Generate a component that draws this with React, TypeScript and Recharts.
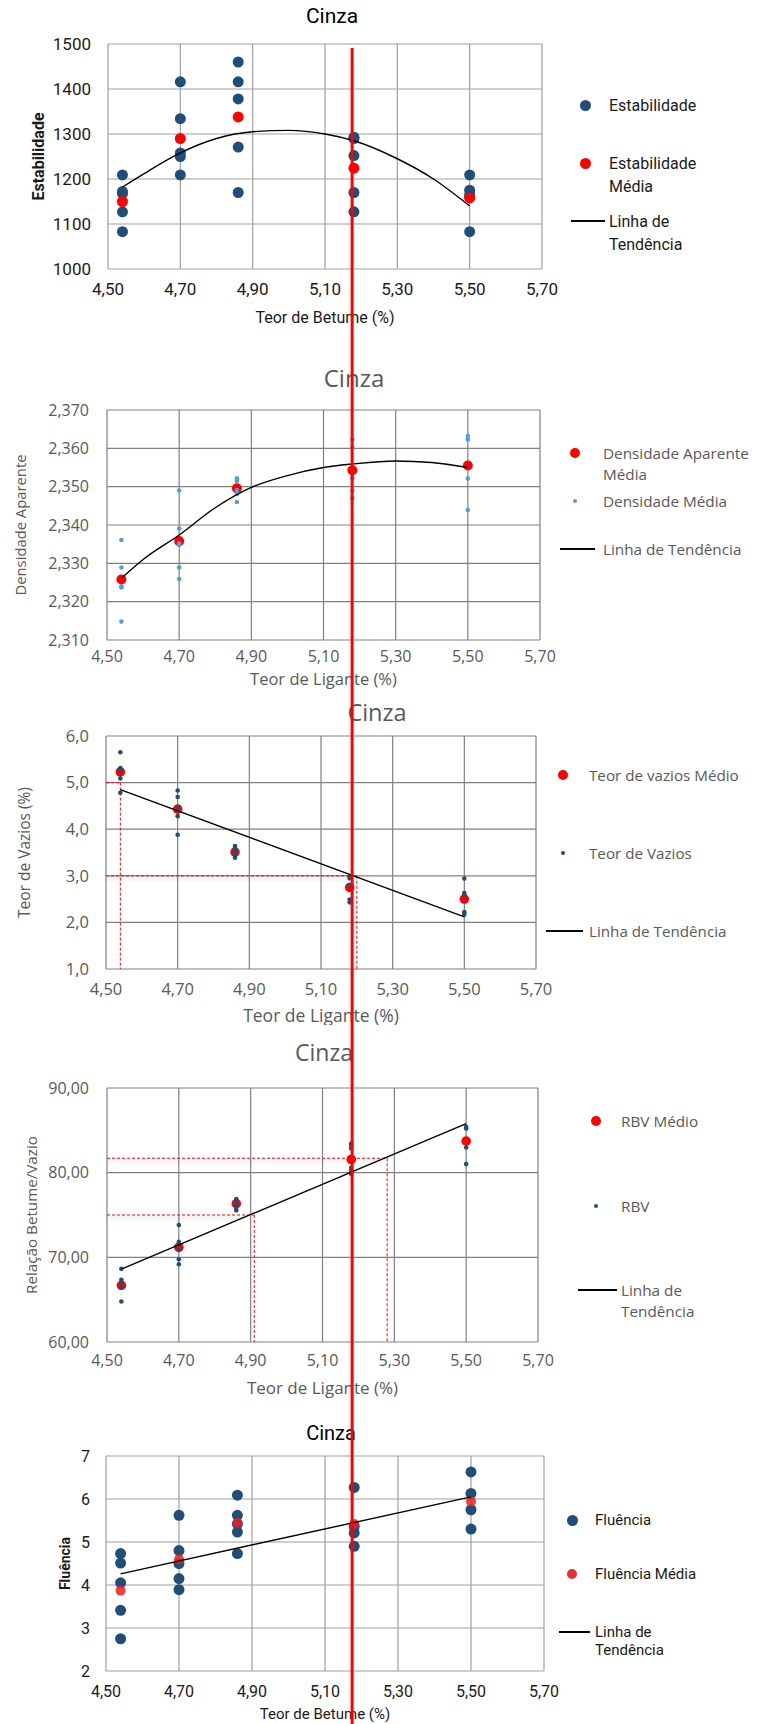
import React from 'react';
import { ScatterChart, Scatter, XAxis, YAxis, CartesianGrid, ReferenceLine, Legend, Label } from 'recharts';

const PAGE_W = 757;
const PAGE_H = 1724;

// ---------- shared ----------
const TEOR = [4.54, 4.7, 4.86, 5.18, 5.5];
const X_TICKS = [4.5, 4.7, 4.9, 5.1, 5.3, 5.5, 5.7];
const TEOR_ESCOLHIDO = 5.175;
const MARCA_Y = [0, 1];

// ---------- 1: Estabilidade ----------
const ESTAB_TICKS = [1000, 1100, 1200, 1300, 1400, 1500];
const ESTABILIDADE = [
  [1209, 1172, 1168, 1127, 1083],
  [1416, 1334, 1258, 1250, 1209],
  [1460, 1416, 1378, 1271, 1170],
  [1293, 1290, 1252, 1170, 1127],
  [1209, 1175, 1165, 1160, 1083],
];
const ESTAB_MEDIA = [1150, 1290, 1338, 1224, 1158];
const ESTAB_TREND_X = [4.54, 4.6, 4.7, 4.8, 4.9, 5.0, 5.1, 5.18, 5.3, 5.4, 5.5];
const ESTAB_TREND_Y = [1182, 1212, 1258, 1290, 1305, 1308, 1300, 1285, 1245, 1200, 1140];

// ---------- 2: Densidade ----------
const DENS_TICKS = [2.31, 2.32, 2.33, 2.34, 2.35, 2.36, 2.37];
const DENS_APARENTE_MEDIA = [2.3258, 2.3358, 2.3496, 2.3543, 2.3555];
const DENSIDADE = [
  [2.3361, 2.3289, 2.324, 2.3237, 2.3148],
  [2.349, 2.3391, 2.3352, 2.3348, 2.3289, 2.3259],
  [2.3522, 2.3515, 2.3491, 2.3484, 2.3481, 2.346],
  [2.3623, 2.3602, 2.3522, 2.349, 2.347],
  [2.3632, 2.3623, 2.3521, 2.3439],
];
const DENS_TREND_X = [4.54, 4.6, 4.7, 4.8, 4.9, 5.0, 5.1, 5.18, 5.3, 5.4, 5.5];
const DENS_TREND_Y = [2.3261, 2.331, 2.3374, 2.3445, 2.3498, 2.3529, 2.355, 2.3559, 2.3567, 2.3563, 2.355];

// ---------- 3: Teor de Vazios ----------
const VAZ_TICKS = [1, 2, 3, 4, 5, 6];
const VAZ_MEDIO = [5.23, 4.43, 3.51, 2.75, 2.5];
const VAZIOS = [
  [5.65, 5.31, 5.27, 5.09, 4.78],
  [4.83, 4.69, 4.47, 4.28, 3.88],
  [3.64, 3.59, 3.51, 3.44, 3.39],
  [2.98, 2.95, 2.8, 2.49, 2.43],
  [2.94, 2.63, 2.59, 2.22, 2.17],
];
const VAZ_TREND_X = [4.54, 5.5];
const VAZ_TREND_Y = [4.85, 2.12];
const VAZ_GUIA_X = [4.54, 5.2];
const VAZ_GUIA_Y = [5.0, 3.0];
const VAZ_GUIA_SOMBRA = [false, true];

// ---------- 4: RBV ----------
const RBV_TICKS = [60, 70, 80, 90];
const RBV_MEDIO = [66.68, 71.19, 76.34, 81.56, 83.72];
const RBV = [
  [68.64, 67.35, 67.07, 66.44, 64.79],
  [73.82, 71.82, 71.55, 70.88, 69.78, 69.19],
  [76.89, 76.65, 76.18, 75.87, 75.55],
  [83.44, 83.17, 82.85, 80.58, 80.3, 79.83],
  [85.41, 85.21, 82.97, 81.01],
];
const RBV_TREND_X = [4.54, 5.5];
const RBV_TREND_Y = [68.6, 85.8];
const RBV_GUIA_X = [5.28, 4.91];
const RBV_GUIA_Y = [81.7, 75.0];
const RBV_GUIA_SOMBRA = [true, true];

// ---------- 5: Fluência ----------
const FLU_TICKS = [2, 3, 4, 5, 6, 7];
const FLUENCIA = [
  [4.73, 4.51, 4.05, 3.41, 2.75],
  [5.62, 4.8, 4.5, 4.15, 3.89],
  [6.09, 5.62, 5.42, 5.23, 4.73],
  [6.27, 5.36, 5.21, 4.9],
  [6.63, 6.13, 5.75, 5.3],
];
const FLU_MEDIA = [3.87, 4.6, 5.44, 5.42, 5.94];
const FLU_TREND_X = [4.54, 5.5];
const FLU_TREND_Y = [4.26, 6.05];

// ---------- helpers ----------
type Pt = { x: number; y: number };
const zip = (xs: number[], ys: number[]): Pt[] => xs.map((x, i) => ({ x, y: ys[i] }));
const groups = (xs: number[], ys: number[][]): Pt[] => xs.flatMap((x, i) => ys[i].map((y) => ({ x, y })));
const guides = (gx: number[], gy: number[], shadow: boolean[], yMin: number) =>
  gx.flatMap((x, i) => [
    { points: [{ x: 4.5, y: gy[i] }, { x, y: gy[i] }], shadow: shadow[i] },
    { points: [{ x, y: gy[i] }, { x, y: yMin }], shadow: false },
  ]);
const fmt = (d: number) => (v: number) => v.toFixed(d).replace('.', ',');

const BLUE = '#1F4E79';
const LIGHT_BLUE = '#5B9BD5';
const RED = '#FF0000';
const ROBOTO = 'Roboto, sans-serif';
const OPEN = "'Open Sans', sans-serif";

type SeriesCfg = { data: Pt[]; kind: 'dot' | 'line'; color: string; r?: number; opacity?: number };
type LegendItem = { kind: 'dot' | 'line'; color: string; r?: number; lines: string[]; cy: number };
type PanelCfg = {
  top: number;
  height: number;
  plot: { left: number; right: number; top: number; bottom: number };
  yDomain: [number, number];
  yTicks: number[];
  yDigits: number;
  font: string;
  color: string;
  titleColor: string;
  tickSize: number;
  yTickMargin: number;
  xTickMargin: number;
  title: { text: string; cx: number; cy: number; size: number };
  yLabel: { text: string; cx: number; size: number; bold?: boolean };
  xLabel: { text: string; size: number; offset: number };
  legend: { markerX: number; textX: number; lineX1: number; lineX2: number; size: number; lineHeight: number; items: LegendItem[] };
  series: SeriesCfg[];
  segments?: { points: Pt[]; shadow: boolean }[];
  gridColor: string;
};

function LegendBox({ cfg }: { cfg: PanelCfg }) {
  const L = cfg.legend;
  return (
    <div style={{ position: 'relative', width: PAGE_W, height: cfg.height, fontFamily: cfg.font, color: cfg.color, fontSize: L.size, pointerEvents: 'none' }}>
      {L.items.map((it, i) => {
        const cy = it.cy - cfg.top;
        const r = it.r || 0;
        return (
          <React.Fragment key={i}>
            {it.kind === 'dot' ? (
              <div style={{ position: 'absolute', left: L.markerX - r, top: cy - r, width: r * 2, height: r * 2, borderRadius: '50%', background: it.color }} />
            ) : (
              <div style={{ position: 'absolute', left: L.lineX1, top: cy - 0.75, width: L.lineX2 - L.lineX1, height: 1.5, background: it.color }} />
            )}
            {it.lines.map((ln, j) => (
              <div
                key={j}
                style={{
                  position: 'absolute',
                  left: L.textX,
                  top: cy + j * L.lineHeight - L.lineHeight / 2,
                  height: L.lineHeight,
                  lineHeight: `${L.lineHeight}px`,
                  whiteSpace: 'nowrap',
                }}
              >
                {ln}
              </div>
            ))}
          </React.Fragment>
        );
      })}
    </div>
  );
}

function Panel({ cfg }: { cfg: PanelCfg }) {
  const p = cfg.plot;
  const localTop = p.top - cfg.top;
  const localBottom = p.bottom - cfg.top;
  const xAxisH = cfg.height - localBottom;
  const tickStyle = { fill: cfg.color, fontSize: cfg.tickSize, fontFamily: cfg.font };
  return (
    <div style={{ position: 'absolute', left: 0, top: cfg.top, width: PAGE_W, height: cfg.height }}>
      <div
        style={{
          position: 'absolute',
          left: cfg.title.cx - 100,
          width: 200,
          top: cfg.title.cy - cfg.top - 0.6 * cfg.title.size,
          lineHeight: `${1.2 * cfg.title.size}px`,
          textAlign: 'center',
          fontFamily: cfg.font,
          fontSize: cfg.title.size,
          color: cfg.titleColor,
        }}
      >
        {cfg.title.text}
      </div>
      <ScatterChart width={PAGE_W} height={cfg.height} margin={{ top: localTop, right: PAGE_W - p.right, bottom: 0, left: 0 }}>
        <CartesianGrid stroke={cfg.gridColor} strokeWidth={1.2} />
        <XAxis
          type="number"
          dataKey="x"
          domain={[4.5, 5.7]}
          ticks={X_TICKS}
          interval={0}
          tickFormatter={fmt(2)}
          height={xAxisH}
          tickSize={0}
          tickLine={false}
          axisLine={false}
          tickMargin={cfg.xTickMargin}
          tick={tickStyle}
        >
          <Label
            value={cfg.xLabel.text}
            position="insideBottom"
            offset={cfg.xLabel.offset}
            style={{ fill: cfg.color, fontSize: cfg.xLabel.size, fontFamily: cfg.font }}
          />
        </XAxis>
        <YAxis
          type="number"
          dataKey="y"
          domain={cfg.yDomain}
          ticks={cfg.yTicks}
          interval={0}
          tickFormatter={fmt(cfg.yDigits)}
          width={p.left}
          tickSize={0}
          tickLine={false}
          axisLine={false}
          tickMargin={cfg.yTickMargin}
          tick={tickStyle}
        >
          <Label
            value={cfg.yLabel.text}
            angle={-90}
            position="insideLeft"
            offset={cfg.yLabel.cx}
            style={{
              textAnchor: 'middle',
              fill: cfg.color,
              fontSize: cfg.yLabel.size,
              fontFamily: cfg.font,
              fontWeight: cfg.yLabel.bold ? 700 : 400,
            }}
          />
        </YAxis>
        {(cfg.segments || []).map((s, i) => (
          <ReferenceLine
            key={`seg${i}`}
            segment={s.points as any}
            stroke={RED}
            strokeWidth={1}
            strokeDasharray="3 2"
            ifOverflow="visible"
            shape={(props: any) => (
              <line
                x1={props.x1}
                y1={props.y1}
                x2={props.x2}
                y2={props.y2}
                stroke={RED}
                strokeWidth={1}
                strokeDasharray="3 2"
                style={s.shadow ? { filter: 'drop-shadow(0px 3px 2px rgba(0,0,0,0.35))' } : undefined}
              />
            )}
          />
        ))}
        {cfg.series.map((s, i) =>
          s.kind === 'dot' ? (
            <Scatter
              key={`s${i}`}
              data={s.data}
              isAnimationActive={false}
              shape={(props: any) => (
                <circle cx={props.cx} cy={props.cy} r={s.r} fill={s.color} fillOpacity={s.opacity ?? 1} />
              )}
            />
          ) : (
            <Scatter
              key={`s${i}`}
              data={s.data}
              isAnimationActive={false}
              line={{ stroke: s.color, strokeWidth: 1.4 }}
              lineJointType="monotoneX"
              shape={() => <g />}
            />
          )
        )}
        <Legend
          layout="vertical"
          align="center"
          verticalAlign="middle"
          wrapperStyle={{ left: 0, top: 0, width: PAGE_W, height: cfg.height }}
          content={() => <LegendBox cfg={cfg} />}
        />
      </ScatterChart>
    </div>
  );
}

const PANELS: PanelCfg[] = [
  {
    top: 0,
    height: 335,
    plot: { left: 108, right: 542, top: 44, bottom: 269 },
    yDomain: [1000, 1500],
    yTicks: ESTAB_TICKS,
    yDigits: 0,
    font: ROBOTO,
    color: '#1a1a1a',
    titleColor: '#000',
    tickSize: 17,
    yTickMargin: 17,
    xTickMargin: 14,
    title: { text: 'Cinza', cx: 332, cy: 17, size: 21 },
    yLabel: { text: 'Estabilidade', cx: 38, size: 16, bold: true },
    xLabel: { text: 'Teor de Betume (%)', size: 16, offset: 12 },
    legend: {
      markerX: 585, textX: 609, lineX1: 571, lineX2: 605, size: 16, lineHeight: 23,
      items: [
        { kind: 'dot', color: BLUE, r: 5.5, lines: ['Estabilidade'], cy: 105 },
        { kind: 'dot', color: RED, r: 5.5, lines: ['Estabilidade', 'Média'], cy: 163 },
        { kind: 'line', color: '#000', lines: ['Linha de', 'Tendência'], cy: 221 },
      ],
    },
    series: [
      { data: groups(TEOR, ESTABILIDADE), kind: 'dot', color: BLUE, r: 5.5 },
      { data: zip(TEOR, ESTAB_MEDIA), kind: 'dot', color: RED, r: 5.5 },
      { data: zip(ESTAB_TREND_X, ESTAB_TREND_Y), kind: 'line', color: '#000' },
    ],
    gridColor: '#a0a0a0',
  },
  {
    top: 335,
    height: 355,
    plot: { left: 107, right: 540, top: 410, bottom: 640 },
    yDomain: [2.31, 2.37],
    yTicks: DENS_TICKS,
    yDigits: 3,
    font: OPEN,
    color: '#595959',
    titleColor: '#595959',
    tickSize: 16,
    yTickMargin: 18,
    xTickMargin: 11,
    title: { text: 'Cinza', cx: 354, cy: 378, size: 24 },
    yLabel: { text: 'Densidade Aparente', cx: 21, size: 14.8 },
    xLabel: { text: 'Teor de Ligante (%)', size: 16.5, offset: 5 },
    legend: {
      markerX: 575, textX: 603, lineX1: 560, lineX2: 595, size: 15.3, lineHeight: 21,
      items: [
        { kind: 'dot', color: RED, r: 5, lines: ['Densidade Aparente', 'Média'], cy: 453 },
        { kind: 'dot', color: LIGHT_BLUE, r: 2.3, lines: ['Densidade Média'], cy: 501 },
        { kind: 'line', color: '#000', lines: ['Linha de Tendência'], cy: 549 },
      ],
    },
    series: [
      { data: zip(TEOR, DENS_APARENTE_MEDIA), kind: 'dot', color: RED, r: 5 },
      { data: groups(TEOR, DENSIDADE), kind: 'dot', color: LIGHT_BLUE, r: 2.3 },
      { data: zip(DENS_TREND_X, DENS_TREND_Y), kind: 'line', color: '#000' },
    ],
    gridColor: '#808080',
  },
  {
    top: 690,
    height: 335,
    plot: { left: 106, right: 536, top: 736, bottom: 969 },
    yDomain: [1, 6],
    yTicks: VAZ_TICKS,
    yDigits: 1,
    font: OPEN,
    color: '#595959',
    titleColor: '#595959',
    tickSize: 16.5,
    yTickMargin: 17,
    xTickMargin: 14,
    title: { text: 'Cinza', cx: 377, cy: 712, size: 23.5 },
    yLabel: { text: 'Teor de Vazios (%)', cx: 24, size: 15.5 },
    xLabel: { text: 'Teor de Ligante (%)', size: 17.5, offset: 3.5 },
    legend: {
      markerX: 563, textX: 589, lineX1: 546, lineX2: 583, size: 15.2, lineHeight: 21,
      items: [
        { kind: 'dot', color: RED, r: 5, lines: ['Teor de vazios Médio'], cy: 775 },
        { kind: 'dot', color: BLUE, r: 2.3, lines: ['Teor de Vazios'], cy: 853 },
        { kind: 'line', color: '#000', lines: ['Linha de Tendência'], cy: 931 },
      ],
    },
    series: [
      { data: zip(TEOR, VAZ_MEDIO), kind: 'dot', color: RED, r: 4.8 },
      { data: groups(TEOR, VAZIOS), kind: 'dot', color: BLUE, r: 2.3 },
      { data: zip(VAZ_TREND_X, VAZ_TREND_Y), kind: 'line', color: '#000' },
    ],
    segments: guides(VAZ_GUIA_X, VAZ_GUIA_Y, VAZ_GUIA_SOMBRA, 1),
    gridColor: '#808080',
  },
  {
    top: 1025,
    height: 375,
    plot: { left: 107, right: 538, top: 1088, bottom: 1342 },
    yDomain: [60, 90],
    yTicks: RBV_TICKS,
    yDigits: 2,
    font: OPEN,
    color: '#595959',
    titleColor: '#595959',
    tickSize: 16,
    yTickMargin: 18,
    xTickMargin: 13,
    title: { text: 'Cinza', cx: 324, cy: 1053, size: 23 },
    yLabel: { text: 'Relação Betume/Vazio', cx: 32, size: 15.2 },
    xLabel: { text: 'Teor de Ligante (%)', size: 17, offset: 6 },
    legend: {
      markerX: 596, textX: 621, lineX1: 578, lineX2: 617, size: 15.3, lineHeight: 21,
      items: [
        { kind: 'dot', color: RED, r: 5, lines: ['RBV Médio'], cy: 1121 },
        { kind: 'dot', color: BLUE, r: 2.3, lines: ['RBV'], cy: 1206 },
        { kind: 'line', color: '#000', lines: ['Linha de', 'Tendência'], cy: 1290 },
      ],
    },
    series: [
      { data: zip(TEOR, RBV_MEDIO), kind: 'dot', color: RED, r: 4.8 },
      { data: groups(TEOR, RBV), kind: 'dot', color: BLUE, r: 2.3 },
      { data: zip(RBV_TREND_X, RBV_TREND_Y), kind: 'line', color: '#000' },
    ],
    segments: guides(RBV_GUIA_X, RBV_GUIA_Y, RBV_GUIA_SOMBRA, 60),
    gridColor: '#808080',
  },
  {
    top: 1400,
    height: 324,
    plot: { left: 106, right: 544, top: 1456, bottom: 1671 },
    yDomain: [2, 7],
    yTicks: FLU_TICKS,
    yDigits: 0,
    font: ROBOTO,
    color: '#1a1a1a',
    titleColor: '#000',
    tickSize: 16,
    yTickMargin: 16,
    xTickMargin: 15,
    title: { text: 'Cinza', cx: 331, cy: 1433, size: 20 },
    yLabel: { text: 'Fluência', cx: 65, size: 14, bold: true },
    xLabel: { text: 'Teor de Betume (%)', size: 15, offset: 5 },
    legend: {
      markerX: 572, textX: 595, lineX1: 559, lineX2: 590, size: 15, lineHeight: 18,
      items: [
        { kind: 'dot', color: BLUE, r: 5.5, lines: ['Fluência'], cy: 1520 },
        { kind: 'dot', color: '#E8302C', r: 5, lines: ['Fluência Média'], cy: 1574 },
        { kind: 'line', color: '#000', lines: ['Linha de', 'Tendência'], cy: 1632 },
      ],
    },
    series: [
      { data: groups(TEOR, FLUENCIA), kind: 'dot', color: BLUE, r: 5.5 },
      { data: zip(TEOR, FLU_MEDIA), kind: 'dot', color: '#F01E1E', r: 5, opacity: 0.85 },
      { data: zip(FLU_TREND_X, FLU_TREND_Y), kind: 'line', color: '#000' },
    ],
    gridColor: '#a0a0a0',
  },
];

const MARCA = MARCA_Y.map((y) => ({ x: TEOR_ESCOLHIDO, y }));

export default function App() {
  return (
    <div style={{ position: 'absolute', left: 0, top: 0, width: PAGE_W, height: PAGE_H, overflow: 'hidden', background: '#fff' }}>
      {PANELS.map((cfg, i) => (
        <Panel key={i} cfg={cfg} />
      ))}
      <div style={{ position: 'absolute', left: 0, top: 0, zIndex: 10, pointerEvents: 'none' }}>
        <ScatterChart width={PAGE_W} height={PAGE_H} margin={{ top: 48, right: PAGE_W - 542, bottom: 0, left: 108 }}>
          <XAxis type="number" dataKey="x" domain={[4.5, 5.7]} hide height={0} />
          <YAxis type="number" dataKey="y" domain={[0, 1]} hide width={0} />
          <Scatter
            data={MARCA}
            isAnimationActive={false}
            line={{ stroke: RED, strokeWidth: 3 }}
            shape={() => <g />}
          />
        </ScatterChart>
      </div>
    </div>
  );
}
